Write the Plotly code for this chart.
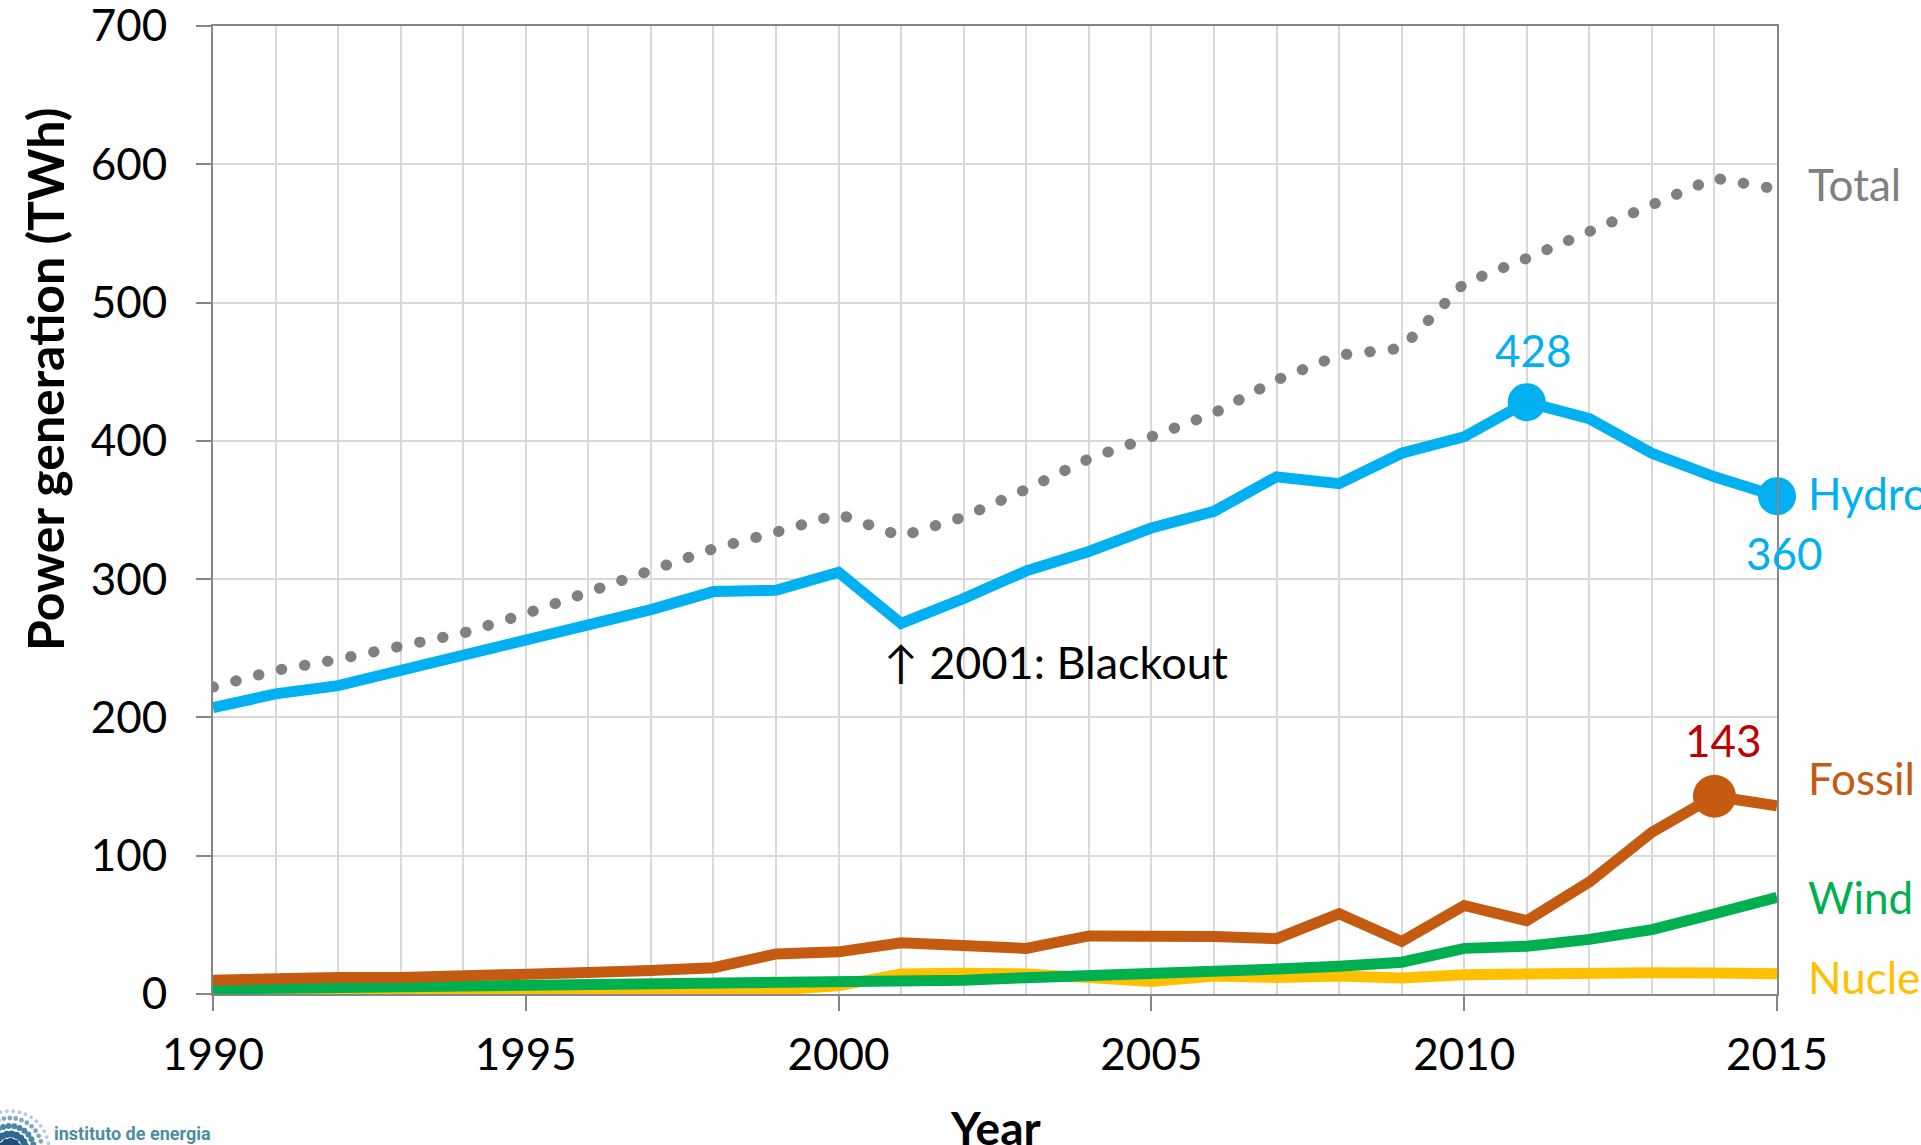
import plotly.graph_objects as go
import math

years = list(range(1990, 2016))
hydro = [207, 217, 223, 234, 243, 254, 265, 278, 291, 292, 305, 268, 286, 306, 320, 337,
         349, 374, 369, 391, 403, 428, 416, 391, 374, 360]
total = [222, 234, 242, 252, 261, 275, 291, 308, 322, 334, 347, 331, 345, 365, 387, 403,
         420, 444, 462, 467, 514, 532, 552, 571, 590, 582]
fossil = [10, 11.5, 12, 12, 12.5, 13.5, 15.5, 17, 19, 29, 30.5, 37, 35, 33, 42, 42,
          41.5, 40, 58, 38, 64, 53, 81, 117, 143, 136]
wind = [3.6, 4, 4.5, 5, 5, 5.3, 6, 6.5, 7, 7.5, 8, 9.5, 10, 11.8, 13, 14,
        15, 18, 20, 23, 33, 34.5, 39.5, 46.5, 58, 70]
nuclear = [2, 2, 2, 2, 2, 2, 2, 2.5, 2.5, 3, 6, 14.5, 15, 14.5, 12, 9,
           13, 12, 13, 11.5, 14, 15, 15.7, 15.3, 15.2, 14.7]

series_names = ["Total", "Hydro", "Fossil", "Wind", "Nuclear"]
C_HYDRO = "#00B0F0"
C_FOSSIL = "#C55A11"
C_WIND = "#00B050"
C_NUC = "#FFC000"
C_TOTAL = "#808080"
C_RED = "#C00000"
GRID = "#D9D9D9"
AXIS = "#868686"
FONT = "Lato"

W, H = 1921, 1145
ML, MR, MT, MB = 213, 144, 26, 151
PW, PH = W - ML - MR, H - MT - MB

def px2paper(px, py):
    return (px - ML) / PW, (H - MB - py) / PH

fig = go.Figure()
LW = 11
fig.add_trace(go.Scatter(x=years, y=nuclear, mode="lines", line=dict(color=C_NUC, width=LW)))
fig.add_trace(go.Scatter(x=years, y=wind, mode="lines", line=dict(color=C_WIND, width=LW)))
fig.add_trace(go.Scatter(x=years, y=fossil, mode="lines", line=dict(color=C_FOSSIL, width=LW)))
fig.add_trace(go.Scatter(x=years, y=hydro, mode="lines", line=dict(color=C_HYDRO, width=LW)))
fig.add_trace(go.Scatter(x=years, y=total, mode="lines", line=dict(color=C_TOTAL, width=11, dash="dot")))

# highlighted points
i11 = years.index(2011)
i15 = years.index(2015)
i14 = years.index(2014)
fig.add_trace(go.Scatter(x=[years[i11], years[i15]], y=[hydro[i11], hydro[i15]], mode="markers",
                         marker=dict(color=C_HYDRO, size=38), cliponaxis=False))
fig.add_trace(go.Scatter(x=[years[i14]], y=[fossil[i14]], mode="markers",
                         marker=dict(color=C_FOSSIL, size=43), cliponaxis=False))

ann = []
fs = 44
ann.append(dict(x=years[i11], y=hydro[i11], text=str(hydro[i11]), showarrow=False,
                xshift=7, yshift=52, font=dict(family=FONT, size=fs, color=C_HYDRO)))
ann.append(dict(x=years[i15], y=hydro[i15], text=str(hydro[i15]), showarrow=False,
                xshift=7, yshift=-57, font=dict(family=FONT, size=fs, color=C_HYDRO)))
ann.append(dict(x=years[i14], y=fossil[i14], text=str(fossil[i14]), showarrow=False,
                xshift=9, yshift=56, font=dict(family=FONT, size=fs, color=C_RED)))

# right-side series labels
right = [("Total", total[-1], 5, C_TOTAL), ("Hydro", hydro[-1], 3, C_HYDRO),
         ("Fossil", fossil[-1], 28, C_FOSSIL), ("Wind", wind[-1], 0, C_WIND),
         ("Nuclear", nuclear[-1], -3, C_NUC)]
for name, v, ys, col in right:
    ann.append(dict(x=years[-1], y=v, text=name, showarrow=False, xanchor="left",
                    xshift=29, yshift=ys, font=dict(family=FONT, size=fs, color=col)))

# blackout note
ann.append(dict(x=2001, y=240, text="\u2191 2001: Blackout", showarrow=False, xanchor="left",
                xshift=-19, font=dict(family=FONT, size=45, color="black")))

# axis titles
tx, ty = px2paper(45, 380)
ann.append(dict(xref="paper", yref="paper", x=tx, y=ty, xanchor="center", yanchor="middle",
                text="<b>Power generation (TWh)</b>",
                textangle=-90, showarrow=False, font=dict(family=FONT, size=50, color="black")))
tx, ty = px2paper(995, 1127)
ann.append(dict(xref="paper", yref="paper", x=tx, y=ty, xanchor="center", yanchor="middle",
                text="<b>Year</b>", showarrow=False,
                font=dict(family=FONT, size=46, color="black")))

# logo text
tx, ty = px2paper(52, 1133)
ann.append(dict(xref="paper", yref="paper", x=tx, y=ty, xanchor="left", yanchor="middle",
                text="<b>instituto de energia</b>",
                showarrow=False, font=dict(family="Liberation Sans Narrow, Roboto", size=18, color="#4B8E9E")))

# logo dots (decoration)
shapes = []
cx, cy = 10, 1150
for k, (r, n, col, s) in enumerate([(8, 6, "#1F4E79", 4.0), (16, 10, "#2E6A8E", 3.6),
                                     (24, 13, "#4A86A8", 3.0), (32, 16, "#7FA9C2", 2.4),
                                     (39, 18, "#B5CCDA", 1.9)]):
    for j in range(n):
        a = math.radians(-10 + 160 * j / (n - 1) + k * 5)
        px = cx + r * math.cos(a)
        py = cy - r * math.sin(a)
        x0, y0 = px2paper(px - s, py + s)
        x1, y1 = px2paper(px + s, py - s)
        shapes.append(dict(type="circle", xref="paper", yref="paper", x0=x0, y0=y0, x1=x1, y1=y1,
                           fillcolor=col, line=dict(width=0), layer="above"))

fig.update_layout(
    width=W, height=H, margin=dict(l=ML, r=MR, t=MT, b=MB, autoexpand=False),
    paper_bgcolor="white", plot_bgcolor="white", showlegend=False,
    font=dict(family=FONT, size=fs, color="black"),
    annotations=ann, shapes=shapes,
)
fig.update_xaxes(range=[1990, 2015], tickmode="linear", tick0=1990, dtick=5,
                 showgrid=True, gridcolor=GRID, gridwidth=2,
                 minor=dict(dtick=1, showgrid=True, gridcolor=GRID, gridwidth=2),
                 showline=True, linecolor=AXIS, linewidth=2, mirror=True,
                 ticks="outside", ticklen=15, tickwidth=2, tickcolor=AXIS,
                 tickfont=dict(family=FONT, size=fs, color="black"), zeroline=False,
                 ticklabelstandoff=6, ticklabeloverflow="allow", automargin=False)
fig.update_yaxes(range=[0, 700], tickmode="linear", tick0=0, dtick=100,
                 showgrid=True, gridcolor=GRID, gridwidth=2,
                 showline=True, linecolor=AXIS, linewidth=2, mirror=True,
                 ticks="outside", ticklen=15, tickwidth=2, tickcolor=AXIS,
                 tickfont=dict(family=FONT, size=fs, color="black"), zeroline=False,
                 ticklabelstandoff=20, ticklabeloverflow="allow", automargin=False)

post = """
document.body.style.margin = '0';
document.body.style.overflow = 'hidden';
var gd = document.getElementById('{plot_id}');
gd.querySelectorAll('.scatterlayer path.js-line').forEach(function(p){
  var d = p.style.strokeDasharray;
  if (d && d !== 'none' && d !== '') {
    p.style.strokeLinecap = 'round';
    p.style.strokeDasharray = '0.5px, 23px';
  }
});
"""
fig.write_html("out.html", post_script=post, config={"displayModeBar": False})
